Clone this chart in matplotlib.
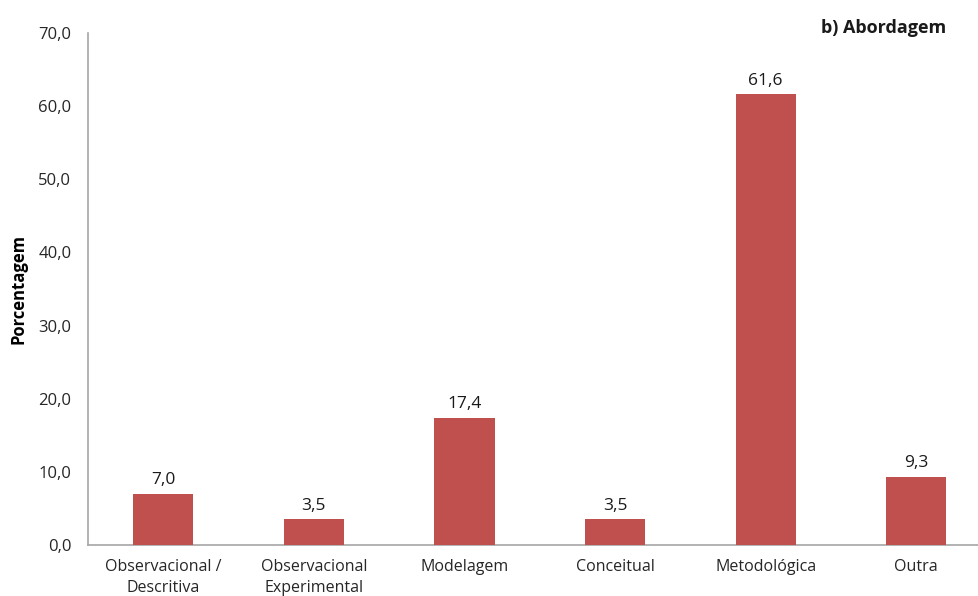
import matplotlib
matplotlib.use("Agg")
import matplotlib.pyplot as plt

categories = ["Observacional /\nDescritiva", "Observacional\nExperimental", "Modelagem",
              "Conceitual", "Metodológica", "Outra"]
values = [7.0, 3.5, 17.4, 3.5, 61.6, 9.3]
yticks = [0, 10, 20, 30, 40, 50, 60, 70]

plt.rcParams['font.family'] = ['Open Sans', 'DejaVu Sans']

fig = plt.figure(figsize=(9.79, 5.96), dpi=100)
ax = fig.add_axes([88/979, (596-545)/596, 1 - 88/979, (545-33)/596])

x = list(range(len(categories)))
bars = ax.bar(x, values, width=0.4, color="#C0504D", zorder=3)
for xi, v in zip(x, values):
    ax.annotate(f"{v:.1f}".replace(".", ","), (xi, v), xytext=(0, 4),
                textcoords="offset points", ha="center", va="bottom",
                fontsize=12.5, color="#1a1a1a")

ax.set_xlim(-0.5, -0.5 + 891/150.6)
ax.set_ylim(0, 70)
ax.set_yticks(yticks)
ax.set_yticklabels([f"{t:.1f}".replace(".", ",") for t in yticks], fontsize=12, color="#262626")
ax.set_xticks(x)
ax.set_xticklabels(categories, fontsize=11.5, color="#262626", linespacing=1.45)
ax.tick_params(axis="both", length=0)
ax.tick_params(axis="y", pad=12)
ax.tick_params(axis="x", pad=10)

for s in ["top", "right"]:
    ax.spines[s].set_visible(False)
for s in ["left", "bottom"]:
    ax.spines[s].set_color("#a6a6a6")
    ax.spines[s].set_linewidth(1.2)

ax.set_ylabel("Porcentagem", fontsize=12, fontweight="bold")
ax.yaxis.set_label_coords(-60/891, 0.5)

fig.text(884/979, (596-28)/596, "b) Abordagem", ha="center", va="center",
         fontsize=13, fontweight="bold", color="#1a1a1a")

fig.savefig("out.png", dpi=100)
